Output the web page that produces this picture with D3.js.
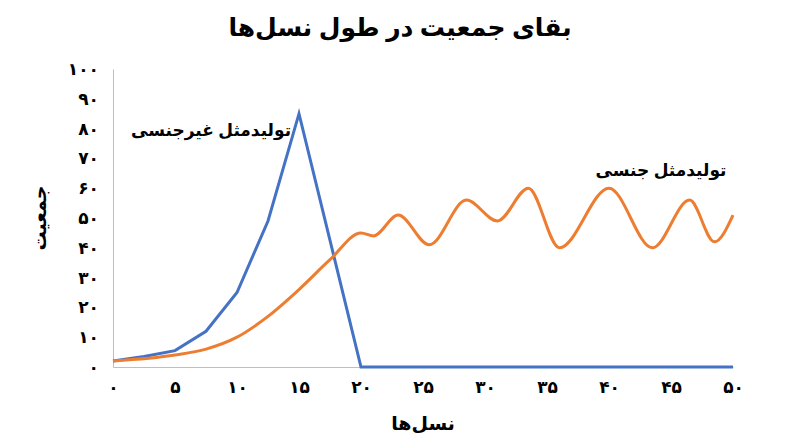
<!DOCTYPE html>
<html><head><meta charset="utf-8">
<script src="https://cdn.jsdelivr.net/npm/d3@7"></script>
<style>body{margin:0;background:#fff;font-family:"Noto Sans","DejaVu Sans",sans-serif;}</style>
</head><body><div id="chart"></div>
<script>
const asexualX = [0, 2.5, 5, 7.5, 10, 12.5, 15, 20, 25, 30, 35, 40, 45, 50];
const asexualY = [2, 3.5, 5.5, 12, 25, 49, 85, 0, 0, 0, 0, 0, 0, 0];
const sexualX = [0, 5, 7.5, 10, 12.5, 15, 17.5, 20, 21, 23, 25.5, 28.5, 31, 33.5, 36, 40, 43.5, 46.5, 48.5, 50];
const sexualY = [2, 4, 6, 10, 17, 26, 36, 45, 44, 51, 41, 56, 49, 60, 40, 60, 40, 56, 42, 51];
const xTicks = [0, 5, 10, 15, 20, 25, 30, 35, 40, 45, 50];
const yTicks = [0, 10, 20, 30, 40, 50, 60, 70, 80, 90, 100];

const fa = d => String(d).replace(/\d/g, c => "۰۱۲۳۴۵۶۷۸۹"[c]);
const W = 800, H = 447;
const svg = d3.select("#chart").append("svg").attr("width", W).attr("height", H);
const x = d3.scaleLinear().domain([0, 50]).range([113, 733]);
const y = d3.scaleLinear().domain([0, 100]).range([367, 69]);

svg.append("g").attr("transform", "translate(0,367)")
  .call(d3.axisBottom(x).tickValues(xTicks).tickFormat(fa).tickSize(0).tickPadding(14))
  .call(g => g.select(".domain").attr("stroke", "#bfbfbf"));
svg.append("g").attr("transform", "translate(113,0)")
  .call(d3.axisLeft(y).tickValues(yTicks).tickFormat(fa).tickSize(0).tickPadding(14))
  .call(g => g.select(".domain").attr("stroke", "#bfbfbf"));
svg.selectAll(".tick text").attr("font-size", 17).attr("font-weight", "bold")
  .attr("fill", "#000").attr("font-family", "Noto Sans, DejaVu Sans, sans-serif");

svg.append("path").datum(asexualX.map((d, i) => [d, asexualY[i]]))
  .attr("fill", "none").attr("stroke", "#4472C4").attr("stroke-width", 3)
  .attr("d", d3.line().x(d => x(d[0])).y(d => y(d[1])));
svg.append("path").datum(sexualX.map((d, i) => [d, sexualY[i]]))
  .attr("fill", "none").attr("stroke", "#ED7D31").attr("stroke-width", 3)
  .attr("d", d3.line().x(d => x(d[0])).y(d => y(d[1])).curve(d3.curveMonotoneX));

const txt = (tx, ty, s, size, rot) => svg.append("text")
  .attr("transform", `translate(${tx},${ty})` + (rot ? ` rotate(${rot})` : ""))
  .attr("text-anchor", "middle").attr("direction", "rtl")
  .attr("font-size", size).attr("font-weight", "bold").text(s);
txt(400, 36, "بقای جمعیت در طول نسل‌ها", 25);
txt(423, 430, "نسل‌ها", 19);
txt(46, 218, "جمعیت", 19, -90);
txt(211, 136, "تولیدمثل غیرجنسی", 17);
txt(661, 176, "تولیدمثل جنسی", 17);
</script></body></html>
